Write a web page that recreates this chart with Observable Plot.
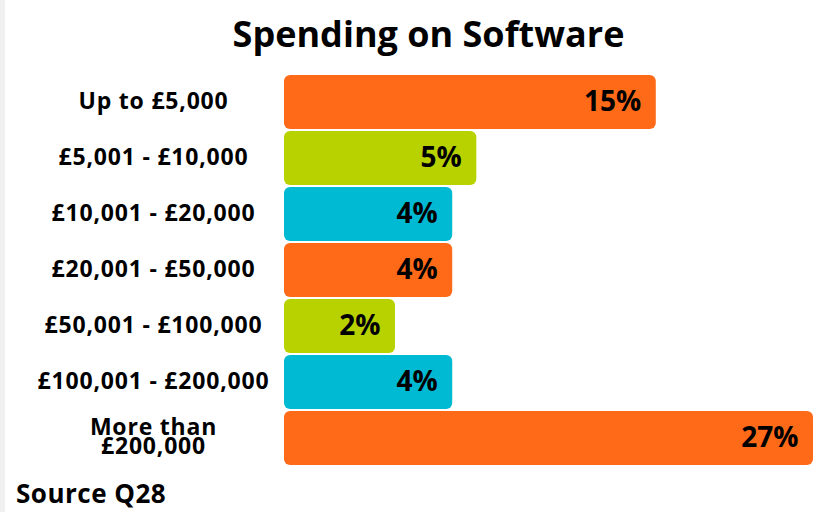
<!DOCTYPE html>
<html>
<head>
<meta charset="utf-8">
<script src="https://cdn.jsdelivr.net/npm/d3@7"></script>
<script src="https://cdn.jsdelivr.net/npm/@observablehq/plot@0.6"></script>
<style>
  html, body { margin: 0; padding: 0; background: #fff; }
  body { width: 840px; height: 512px; position: relative; overflow: hidden; font-family: "Open Sans", sans-serif; }
  #strip { position: absolute; left: 0; top: 0; width: 5px; height: 512px; background: #f0f0f0; }
  #title { position: absolute; left: 0; width: 857px; top: 9px; text-align: center; font-size: 36px; font-weight: bold; color: #000; line-height: 50px; }
  #chart { position: absolute; left: 0; top: 64px; }
  #source { position: absolute; left: 16px; top: 476px; font-size: 26px; font-weight: bold; color: #000; line-height: 34px; letter-spacing: 0.5px; }
  #chart g.catlabels text { letter-spacing: 0.8px; }
</style>
</head>
<body>
<div id="strip"></div>
<div id="title">Spending on Software</div>
<div id="chart"></div>
<div id="source">Source Q28</div>
<script>
const categories = [
  "Up to £5,000",
  "£5,001 - £10,000",
  "£10,001 - £20,000",
  "£20,001 - £50,000",
  "£50,001 - £100,000",
  "£100,001 - £200,000",
  "More than\n£200,000"
];
const values = [15, 5, 4, 4, 2, 4, 27];
const palette = ["#FF6A19", "#B8D200", "#00B9D2"];

const data = categories.map((c, i) => ({category: c, value: values[i]}));

const chart = Plot.plot({
  width: 840,
  height: 410,
  marginTop: 8,
  marginBottom: 6,
  marginLeft: 284,
  marginRight: 27,
  style: {fontFamily: "'Open Sans', sans-serif", color: "#000", background: "transparent"},
  x: {type: "pow", exponent: 0.6, domain: [0, 27], axis: null},
  y: {domain: categories, padding: 0.04, axis: null},
  color: {domain: categories, range: categories.map((c, i) => palette[i % 3])},
  marks: [
    Plot.barX(data, {x: "value", y: "category", fill: "category", rx: 6}),
    Plot.text(data, {x: "value", y: "category", text: d => d.value + "%", textAnchor: "end", dx: -15, fontSize: 28, fontWeight: "bold", fill: "#000"}),
    Plot.text(data, {y: "category", text: "category", frameAnchor: "left", textAnchor: "middle", dx: -131, fontSize: 23, fontWeight: "bold", fill: "#000", lineHeight: 0.84})
  ]
});
const groups = chart.querySelectorAll('g[aria-label="text"]');
if (groups.length) groups[groups.length - 1].classList.add("catlabels");
document.getElementById("chart").appendChild(chart);
</script>
</body>
</html>
